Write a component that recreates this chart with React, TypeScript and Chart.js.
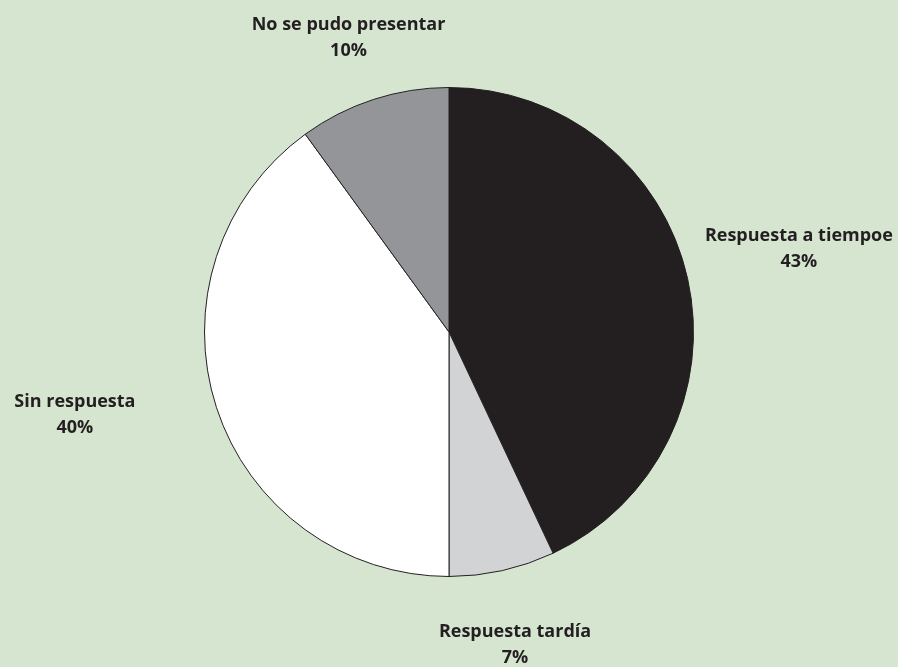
import React, { useEffect, useRef } from "react";
import { Chart, registerables } from "chart.js";

Chart.register(...registerables);

const categories = [
  "Respuesta a tiempoe",
  "Respuesta tardía",
  "Sin respuesta",
  "No se pudo presentar",
];
const values = [43, 7, 40, 10];
const sliceColors = ["#231f20", "#d1d3d4", "#ffffff", "#939598"];

// label centre offsets, in units of the pie radius, relative to the pie centre
const labelOffsets = [
  [1.431, -0.346],
  [0.27, 1.274],
  [-1.53, 0.333],
  [-0.411, -1.207],
];

const BG = "#d6e5d0";

const labelPlugin = {
  id: "outerLabels",
  afterDatasetsDraw(chart: any) {
    const meta = chart.getDatasetMeta(0);
    const ctx = chart.ctx;
    ctx.save();
    ctx.fillStyle = "#231f20";
    ctx.font = "bold 18px 'Open Sans'";
    ctx.textAlign = "center";
    ctx.textBaseline = "alphabetic";
    meta.data.forEach((arc: any, i: number) => {
      const r = arc.outerRadius;
      const cx = arc.x + labelOffsets[i][0] * r;
      const cy = arc.y + labelOffsets[i][1] * r;
      ctx.fillText(categories[i], cx, cy - 13 + 6.5);
      ctx.fillText(values[i] + "%", cx, cy + 13 + 6.5);
    });
    ctx.restore();
  },
};

export default function App() {
  const ref = useRef<HTMLCanvasElement | null>(null);
  useEffect(() => {
    if (!ref.current) return;
    const chart = new Chart(ref.current, {
      type: "pie",
      data: {
        labels: categories,
        datasets: [
          {
            data: values,
            backgroundColor: sliceColors,
            borderColor: "#231f20",
            borderWidth: 1,
          },
        ],
      },
      options: {
        responsive: false,
        animation: false,
        layout: { padding: { top: 87, bottom: 90, left: 0, right: 0 } },
        plugins: {
          legend: { display: false },
          tooltip: { enabled: false },
        },
      },
      plugins: [labelPlugin],
    });
    return () => chart.destroy();
  }, []);
  return (
    <div
      style={{
        position: "absolute",
        top: 0,
        left: 0,
        width: 898,
        height: 667,
        background: BG,
      }}
    >
      <canvas ref={ref} width={898} height={667} />
    </div>
  );
}
